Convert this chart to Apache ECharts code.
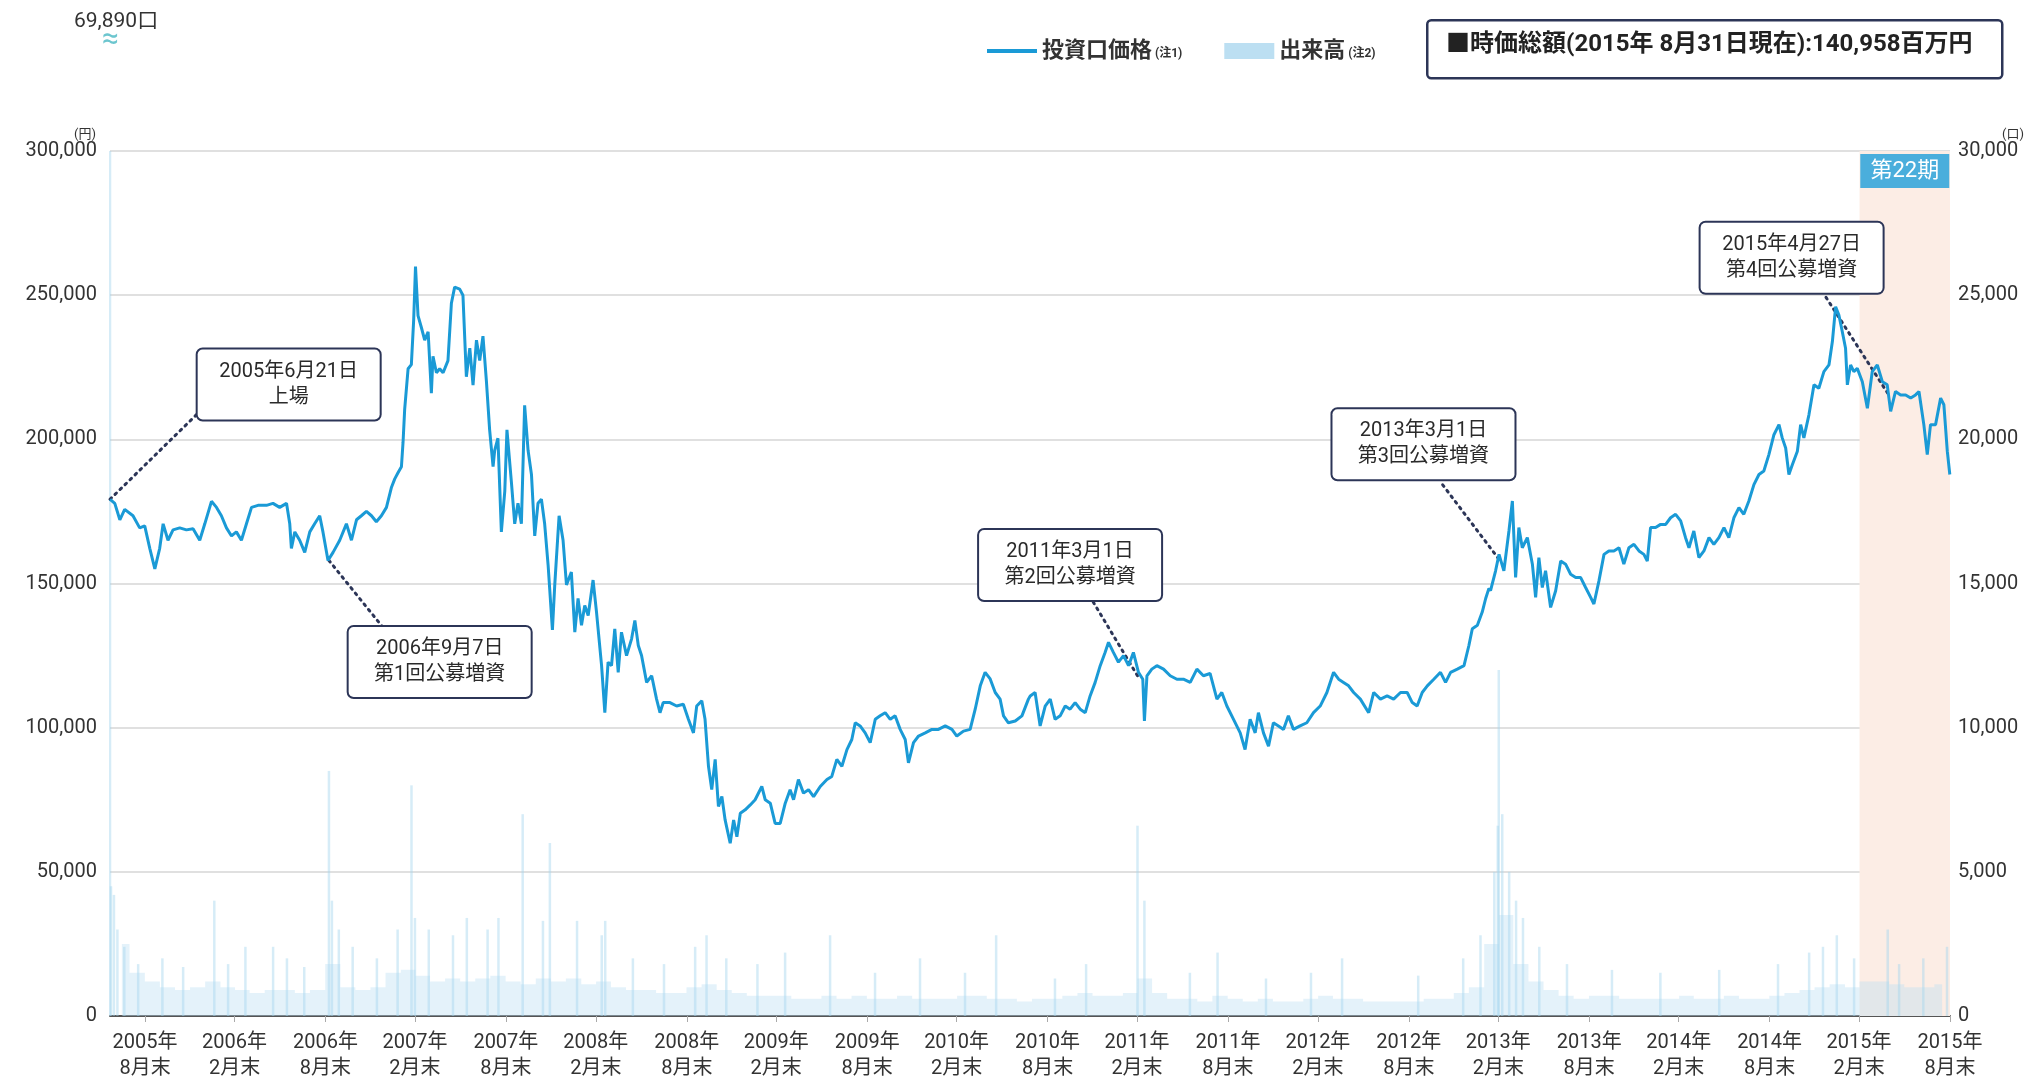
<!DOCTYPE html>
<html><head><meta charset="utf-8">
<script src="https://cdn.jsdelivr.net/npm/echarts@6/dist/echarts.min.js"></script>
<style>html,body{margin:0;padding:0;background:#fff;}#chart{width:2029px;height:1082px;}</style>
</head><body><div id="chart"></div>
<script>
// ---------- DATA ----------
// price: dates as decimal years, values in yen
const priceYears = [2005.469,2005.495,2005.523,2005.550,2005.596,2005.633,2005.661,2005.689,2005.717,2005.744,2005.763,2005.790,2005.818,2005.855,2005.892,2005.929,2005.966,2005.994,2006.031,2006.059,2006.086,2006.114,2006.142,2006.169,2006.197,2006.225,2006.253,2006.289,2006.336,2006.372,2006.409,2006.447,2006.465,2006.474,2006.493,2006.520,2006.548,2006.576,2006.603,2006.631,2006.649,2006.677,2006.705,2006.742,2006.779,2006.807,2006.835,2006.862,2006.890,2006.918,2006.945,2006.973,2007.001,2007.029,2007.047,2007.065,2007.084,2007.093,2007.102,2007.121,2007.139,2007.152,2007.162,2007.176,2007.195,2007.213,2007.232,2007.250,2007.259,2007.278,2007.296,2007.315,2007.342,2007.361,2007.379,2007.407,2007.425,2007.444,2007.463,2007.481,2007.500,2007.518,2007.536,2007.555,2007.573,2007.592,2007.601,2007.619,2007.638,2007.657,2007.669,2007.694,2007.712,2007.730,2007.749,2007.767,2007.786,2007.805,2007.823,2007.841,2007.860,2007.878,2007.897,2007.921,2007.934,2007.958,2007.980,2007.999,2008.026,2008.045,2008.063,2008.082,2008.100,2008.119,2008.146,2008.165,2008.193,2008.211,2008.229,2008.248,2008.266,2008.285,2008.303,2008.331,2008.359,2008.377,2008.396,2008.414,2008.442,2008.470,2008.497,2008.516,2008.534,2008.571,2008.608,2008.645,2008.673,2008.701,2008.719,2008.747,2008.765,2008.784,2008.802,2008.821,2008.839,2008.858,2008.876,2008.904,2008.923,2008.941,2008.960,2008.987,2009.015,2009.042,2009.079,2009.098,2009.126,2009.153,2009.181,2009.209,2009.236,2009.255,2009.282,2009.310,2009.338,2009.366,2009.403,2009.440,2009.467,2009.495,2009.523,2009.551,2009.578,2009.597,2009.624,2009.652,2009.680,2009.708,2009.735,2009.763,2009.791,2009.818,2009.846,2009.874,2009.892,2009.920,2009.948,2009.985,2010.022,2010.058,2010.096,2010.133,2010.160,2010.197,2010.234,2010.262,2010.290,2010.317,2010.345,2010.373,2010.400,2010.419,2010.446,2010.484,2010.521,2010.557,2010.567,2010.594,2010.622,2010.650,2010.678,2010.705,2010.733,2010.761,2010.788,2010.816,2010.844,2010.872,2010.899,2010.927,2010.955,2010.982,2011.001,2011.028,2011.056,2011.084,2011.112,2011.139,2011.167,2011.191,2011.200,2011.214,2011.241,2011.269,2011.306,2011.343,2011.380,2011.416,2011.454,2011.491,2011.527,2011.564,2011.602,2011.629,2011.657,2011.694,2011.731,2011.758,2011.786,2011.814,2011.832,2011.860,2011.888,2011.915,2011.943,2011.971,2011.998,2012.026,2012.063,2012.100,2012.137,2012.174,2012.211,2012.248,2012.276,2012.303,2012.331,2012.359,2012.396,2012.442,2012.470,2012.507,2012.544,2012.580,2012.618,2012.655,2012.683,2012.710,2012.738,2012.766,2012.802,2012.839,2012.867,2012.895,2012.932,2012.969,2012.996,2013.015,2013.043,2013.070,2013.089,2013.107,2013.116,2013.144,2013.163,2013.190,2013.218,2013.237,2013.255,2013.273,2013.292,2013.320,2013.348,2013.366,2013.384,2013.403,2013.421,2013.449,2013.477,2013.505,2013.532,2013.560,2013.588,2013.615,2013.643,2013.671,2013.689,2013.717,2013.745,2013.772,2013.800,2013.828,2013.855,2013.883,2013.911,2013.939,2013.966,2013.985,2014.003,2014.031,2014.059,2014.087,2014.114,2014.142,2014.170,2014.197,2014.216,2014.243,2014.271,2014.299,2014.327,2014.354,2014.382,2014.410,2014.437,2014.465,2014.493,2014.520,2014.548,2014.576,2014.604,2014.631,2014.659,2014.687,2014.715,2014.733,2014.752,2014.770,2014.789,2014.817,2014.835,2014.853,2014.881,2014.909,2014.936,2014.964,2014.992,2015.011,2015.029,2015.047,2015.066,2015.084,2015.094,2015.112,2015.130,2015.149,2015.177,2015.205,2015.232,2015.260,2015.288,2015.315,2015.334,2015.361,2015.389,2015.417,2015.445,2015.472,2015.491,2015.518,2015.537,2015.555,2015.583,2015.611,2015.629,2015.648,2015.662];
const priceValues = [179200,177800,172100,175700,173500,169300,170000,162200,155100,162200,170700,165000,168600,169300,168600,169000,165000,170700,178500,176400,173500,169300,166500,167900,165000,170700,176400,177100,177100,177800,176400,177800,170700,162200,167900,165000,160800,167900,170700,173500,167900,158000,160800,165000,170700,165000,172100,173500,175000,173500,171400,173500,176400,183400,186300,188400,190500,199000,210400,224500,225900,241500,259900,242900,238700,234400,237300,216000,228800,223100,224500,223100,227300,247200,252800,252100,250000,221700,231600,218800,234400,227300,235800,220300,203300,190500,196200,200400,167900,182000,203300,184900,170700,177800,170700,211800,196200,187700,166500,177800,179200,170700,156500,133900,149500,173500,165000,149500,154000,133100,144800,135500,142400,138900,151200,140100,121500,105200,122700,121500,134300,119200,133100,125000,130800,137200,128500,125000,115700,118000,109900,105200,108700,108700,107500,108100,102900,98200,107500,109300,102900,86600,78500,89000,72700,76100,68000,59900,68000,62200,70300,71500,73200,75000,79600,75000,73800,66800,66800,73800,78500,75000,82000,77300,78500,76100,79600,82000,83100,89000,86600,92400,95900,101700,100600,98200,94800,102900,104100,105200,102900,104100,99400,95900,87800,94800,97100,98200,99400,99400,100600,99400,97100,98800,99400,106400,114500,119200,116900,112200,109900,104100,101700,102300,104100,109900,111000,112200,100600,107500,109900,102900,104100,107500,106400,108700,106400,105200,111000,115700,121500,126100,129600,126100,122700,125000,121500,126100,119200,116800,102300,118000,120300,121500,120300,118000,116800,116800,115700,120300,118000,118800,109900,112200,107500,102900,98200,92400,102900,98200,105200,98200,93600,101700,100600,99400,104100,99400,100600,101700,105200,107500,112200,119200,116800,115700,114500,112200,109900,105200,112200,109900,111000,109900,112200,112200,108700,107500,112200,114500,116800,119200,115700,119200,120300,121500,128500,134300,135500,140100,144800,148300,147500,154400,160100,154400,168200,178600,152100,169400,162400,165900,156700,145200,159000,148600,154400,141700,147500,157800,156700,153200,152100,152100,148600,145200,142900,150900,160100,161300,161300,162400,156700,162400,163600,161300,160100,157800,169400,169400,170500,170500,172800,174000,171700,165900,162400,168200,159000,161300,165900,163600,165900,169400,165900,172800,176300,174000,178600,184300,187800,189000,194700,201600,205100,200500,197000,187800,191200,195900,205100,200500,208500,218900,217700,223500,225800,233900,246000,243100,237300,231600,218900,225800,223500,224600,220000,210800,223500,225800,220000,218900,209700,216600,215400,215400,214300,215400,216600,205100,194700,205100,205100,214300,212000,195900,187800];

// volume: monthly typical level (from 2005-07) and individual spikes (口)
const volumeMonthStart = [2005, 7];
const volumeMonthly = [
  2500,1500,1200,1000,900,1000,
  1200,1000,900,800,900,900,800,900,1800,1000,900,1000,
  1500,1600,1400,1200,1300,1200,1300,1400,1200,1100,1300,1200,
  1300,1100,1200,1000,900,900,800,800,1000,1100,900,800,
  700,700,700,600,600,700,600,700,600,600,700,600,
  600,600,700,700,600,600,500,600,600,700,800,700,
  700,800,1300,800,600,600,500,700,600,500,600,500,
  500,600,700,600,600,500,500,500,500,600,600,800,
  1000,2500,3500,1800,1200,900,700,600,700,700,600,600,
  600,600,700,600,600,700,600,600,700,800,900,1000,
  1100,1000,1200,1200,1100,1000,1000,1100];
const volumeSpikeDates = ['2005-06-21','2005-06-23','2005-06-29','2005-07-06','2005-07-20','2005-08-17','2005-10-05','2005-11-16','2006-01-18','2006-02-15','2006-03-22','2006-05-17','2006-06-14','2006-07-19','2006-09-07','2006-09-13','2006-09-27','2006-10-25','2006-12-13','2007-01-24','2007-02-21','2007-02-28','2007-03-28','2007-05-16','2007-06-13','2007-07-25','2007-08-16','2007-10-04','2007-11-14','2007-11-28','2008-01-22','2008-03-12','2008-03-19','2008-05-14','2008-07-16','2008-09-17','2008-10-10','2008-11-19','2009-01-21','2009-03-18','2009-06-17','2009-09-16','2009-12-16','2010-03-17','2010-05-19','2010-09-15','2010-11-17','2011-03-01','2011-03-15','2011-06-15','2011-08-10','2011-11-16','2012-02-15','2012-04-18','2012-09-19','2012-12-19','2013-01-23','2013-02-20','2013-02-27','2013-03-01','2013-03-08','2013-03-22','2013-04-05','2013-04-19','2013-05-22','2013-07-17','2013-10-16','2014-01-22','2014-05-21','2014-09-17','2014-11-19','2014-12-17','2015-01-14','2015-02-18','2015-04-27','2015-05-20','2015-07-08','2015-08-25'];
const volumeSpikeValues = [69890,4500,4200,3000,2400,1800,2000,1700,4000,1800,2400,2400,2000,1700,8500,4000,3000,2400,2000,3000,8000,3400,3000,2800,3400,3000,3400,7000,3300,6000,3300,2800,3300,2000,1800,2400,2800,2000,1800,2200,2800,1500,2000,1500,2800,1300,1800,6600,4000,1500,2200,1300,1500,2000,1400,2000,2800,5000,6600,12000,7000,5000,4000,3400,2400,1800,1600,1500,1600,1800,2200,2400,2800,2000,3000,1800,2000,2400];

// axis ticks
const xTickDates = ['2005-08-31','2006-02-28','2006-08-31','2007-02-28','2007-08-31','2008-02-29','2008-08-31','2009-02-28','2009-08-31','2010-02-28','2010-08-31','2011-02-28','2011-08-31','2012-02-29','2012-08-31','2013-02-28','2013-08-31','2014-02-28','2014-08-31','2015-02-28','2015-08-31'];
const xTickLabels = ['2005年\n8月末','2006年\n2月末','2006年\n8月末','2007年\n2月末','2007年\n8月末','2008年\n2月末','2008年\n8月末','2009年\n2月末','2009年\n8月末','2010年\n2月末','2010年\n8月末','2011年\n2月末','2011年\n8月末','2012年\n2月末','2012年\n8月末','2013年\n2月末','2013年\n8月末','2014年\n2月末','2014年\n8月末','2015年\n2月末','2015年\n8月末'];
const xRange = ['2005-06-21','2015-08-31'];
const periodRange = ['2015-03-01','2015-08-31'];
const periodLabel = '第22期';

// event annotations: event date/price, box anchor (decimal year, yen), leader end near box
const events = [
  {date:'2005-06-21', price:179200, text:'2005年6月21日\n上場',        box:[2006.459,219000], lead:[2005.955,209000]},
  {date:'2006-09-07', price:158000, text:'2006年9月7日\n第1回公募増資', box:[2007.296,122800], lead:[2006.980,134900]},
  {date:'2011-03-01', price:118000, text:'2011年3月1日\n第2回公募増資', box:[2010.788,156400], lead:[2010.916,143600]},
  {date:'2013-03-01', price:158500, text:'2013年3月1日\n第3回公募増資', box:[2012.745,198300], lead:[2012.849,184400]},
  {date:'2015-04-27', price:216000, text:'2015年4月27日\n第4回公募増資', box:[2014.785,263000], lead:[2014.973,249500]}
];

// ---------- HELPERS ----------
function ymd(s){const p=s.split('-').map(Number);return Date.UTC(p[0],p[1]-1,p[2]);}
function dec(y){const yr=Math.floor(y);const a=Date.UTC(yr,0,1),b=Date.UTC(yr+1,0,1);return a+(y-yr)*(b-a);}

const priceData = priceYears.map((y,i)=>[dec(y),priceValues[i]]);
const bandData = volumeMonthly.map((v,i)=>[Date.UTC(volumeMonthStart[0],volumeMonthStart[1]-1+i,15),v]);
const spikeData = volumeSpikeDates.map((d,i)=>[ymd(d),volumeSpikeValues[i]]);
const tickTs = xTickDates.map(ymd);
const labelMap = {}; tickTs.forEach((t,i)=>labelMap[t]=xTickLabels[i]);
const fmt = v => Number(v).toLocaleString('en-US');

const FONT = 'Roboto, "Noto Sans CJK JP", sans-serif';
const NAVY = '#2c3557';
const LINE = '#1a9ad6';

const chart = echarts.init(document.getElementById('chart'));
chart.setOption({
  animation:false,
  textStyle:{fontFamily:FONT},
  grid:{left:110,right:79,top:151,bottom:64},
  legend:{
    left:982, top:35, itemWidth:50, itemHeight:16, itemGap:42,
    textStyle:{fontSize:22,color:'#333',fontWeight:'bold',fontFamily:FONT,
      rich:{n:{fontSize:12,color:'#333',fontFamily:FONT,padding:[6,0,0,3]}}},
    formatter:n=> n==='投資口価格' ? '投資口価格{n|(注1)}' : '出来高{n|(注2)}',
    data:[{name:'投資口価格',icon:'path://M0,0 L46,0 L46,3.5 L0,3.5 Z',itemStyle:{color:LINE}},
          {name:'出来高',icon:'rect',itemStyle:{color:'#bcdff2'}}]
  },
  xAxis:{
    type:'value', min:ymd(xRange[0]), max:ymd(xRange[1]),
    splitLine:{show:false},
    axisLine:{lineStyle:{color:'#555',width:2}},
    axisTick:{show:true,customValues:tickTs,length:6,lineStyle:{color:'#aaa'}},
    axisLabel:{customValues:tickTs,formatter:v=>labelMap[v]||'',fontSize:20,color:'#333',lineHeight:26,margin:14,fontFamily:FONT}
  },
  yAxis:[
    {type:'value',min:0,max:300000,interval:50000,position:'left',
     axisLine:{show:false},axisTick:{show:false},
     axisLabel:{formatter:fmt,fontSize:20,color:'#333',margin:13,fontFamily:FONT},
     splitLine:{lineStyle:{color:'#d6d6d6',width:1.5}},
     name:'(円)',nameLocation:'end',nameGap:9,
     nameTextStyle:{fontSize:13,color:'#333',align:'right',padding:[0,14,0,0]}},
    {type:'value',min:0,max:30000,interval:5000,position:'right',
     axisLine:{show:false},axisTick:{show:false},splitLine:{show:false},
     axisLabel:{formatter:fmt,fontSize:20,color:'#333',margin:8,fontFamily:FONT},
     name:'(口)',nameLocation:'end',nameGap:9,
     nameTextStyle:{fontSize:13,color:'#333',align:'left',padding:[0,0,0,52]}}
  ],
  series:[
    {name:'出来高',type:'line',yAxisIndex:1,step:'middle',symbol:'none',
     lineStyle:{width:0},areaStyle:{color:'rgba(185,222,243,0.55)'},data:bandData,z:1,
     markArea:{silent:true,itemStyle:{color:'#fcede5'},
       label:{show:true,position:'insideTop',distance:3,formatter:periodLabel,color:'#fff',fontSize:22,
              backgroundColor:'#4aaedc',padding:[6,0,6,0],width:89,align:'center',fontFamily:FONT},
       data:[[{xAxis:ymd(periodRange[0])},{xAxis:ymd(periodRange[1])}]]}},
    {name:'出来高',type:'bar',yAxisIndex:1,barWidth:2.5,itemStyle:{color:'rgba(165,212,238,0.45)'},data:spikeData,z:2},
    {name:'投資口価格',type:'line',yAxisIndex:0,symbol:'none',data:priceData,z:5,
     lineStyle:{color:LINE,width:3},itemStyle:{color:LINE},
     markLine:{silent:true,symbol:['none','none'],label:{show:false},
       lineStyle:{type:[2,5],color:NAVY,width:3,cap:'round'},
       data:events.map(e=>[{coord:[ymd(e.date),e.price]},{coord:[dec(e.lead[0]),e.lead[1]]}])},
     markPoint:{silent:true,symbol:'rect',symbolSize:1,itemStyle:{color:'rgba(0,0,0,0)'},
       label:{show:true,position:'inside',color:'#2a2a2a',fontSize:20,lineHeight:26,align:'center',width:150,
              backgroundColor:'#fff',borderColor:NAVY,borderWidth:2,borderRadius:5,padding:[9,16],fontFamily:FONT},
       data:events.map(e=>({coord:[dec(e.box[0]),e.box[1]],value:e.text,label:{formatter:e.text}}))}}
  ],
  graphic:[
    {type:'text',left:74,top:11,style:{text:'69,890口',fontSize:21,fill:'#333',fontFamily:FONT}},
    {type:'text',left:102,top:26,style:{text:'≈',fontSize:30,fill:'#6cc6cf',fontFamily:FONT}},
    {type:'rect',left:1426,top:19,shape:{width:575,height:58,r:4},style:{fill:'#fff',stroke:NAVY,lineWidth:2.5}},
    {type:'text',left:1446,top:33,style:{text:'■時価総額(2015年 8月31日現在):140,958百万円',fontSize:24,fill:'#222',fontWeight:'bold',fontFamily:FONT}}
  ]
});
</script></body></html>
